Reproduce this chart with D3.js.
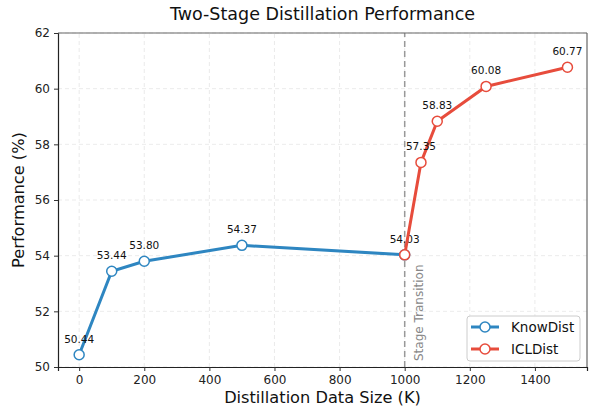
<!DOCTYPE html>
<html>
<head>
<meta charset="utf-8">
<script src="https://cdn.jsdelivr.net/npm/d3@7"></script>
<style>
  body { margin: 0; background: #fff; }
  svg { font-family: "DejaVu Sans", sans-serif; }
</style>
</head>
<body>
<svg id="chart" width="591" height="407"></svg>
<script>
// data
var knowX = [0, 100, 200, 500, 1000]
var knowY = [50.44, 53.44, 53.80, 54.37, 54.03]
var iclX = [1000, 1050, 1100, 1250, 1500]
var iclY = [54.03, 57.35, 58.83, 60.08, 60.77]
var xTicks = [0, 200, 400, 600, 800, 1000, 1200, 1400]
var yTicks = [50, 52, 54, 56, 58, 60, 62]
var seriesNames = ['KnowDist', 'ICLDist']
var colors = ['#2e86c1', '#e74c3c']

var margin = {left: 58, top: 33, right: 4, bottom: 40}
var width = 591, height = 407
var svg = d3.select('#chart')

var x = d3.scaleLinear().domain([-65, 1560]).range([margin.left, width - margin.right])
var y = d3.scaleLinear().domain([50, 62]).range([height - margin.bottom, margin.top])

// grid
var grid = svg.append('g')
grid.selectAll('.gx').data(xTicks).enter().append('line')
    .attr('x1', function (d) { return x(d) }).attr('x2', function (d) { return x(d) })
    .attr('y1', y(50)).attr('y2', y(62))
    .attr('stroke', '#e6e6e6').attr('stroke-width', 0.8).attr('stroke-dasharray', '4,3')
grid.selectAll('.gy').data(yTicks).enter().append('line')
    .attr('y1', function (d) { return y(d) }).attr('y2', function (d) { return y(d) })
    .attr('x1', x.range()[0]).attr('x2', x.range()[1])
    .attr('stroke', '#e6e6e6').attr('stroke-width', 0.8).attr('stroke-dasharray', '4,3')

// stage transition
svg.append('line')
    .attr('x1', x(1000)).attr('x2', x(1000)).attr('y1', y(50)).attr('y2', y(62))
    .attr('stroke', '#999').attr('stroke-width', 1.5).attr('stroke-dasharray', '6,4')
svg.append('text')
    .attr('transform', 'translate(' + (x(1000) + 18) + ',' + (y(50) - 6) + ') rotate(-90)')
    .attr('fill', '#888').attr('font-size', 12)
    .text('Stage Transition')

// axes
var xAxis = svg.append('g').attr('transform', 'translate(0,' + y(50) + ')')
    .call(d3.axisBottom(x).tickValues(xTicks).tickFormat(d3.format('d')).tickSize(4).tickPadding(4))
var yAxis = svg.append('g').attr('transform', 'translate(' + x.range()[0] + ',0)')
    .call(d3.axisLeft(y).tickValues(yTicks).tickFormat(d3.format('d')).tickSize(4).tickPadding(4))
svg.selectAll('.tick text').attr('font-size', 12).attr('fill', '#222').attr('font-family', 'DejaVu Sans')
svg.selectAll('.tick line').attr('stroke', '#333')
xAxis.select('.domain').attr('stroke', '#222').attr('stroke-width', 1.2)
yAxis.select('.domain').attr('stroke', '#222').attr('stroke-width', 1.2)
// top/right spines
svg.append('line').attr('x1', x.range()[0]).attr('x2', x.range()[1]).attr('y1', y(62)).attr('y2', y(62))
    .attr('stroke', '#666').attr('stroke-width', 1.2)
svg.append('line').attr('x1', x.range()[1]).attr('x2', x.range()[1]).attr('y1', y(62)).attr('y2', y(50))
    .attr('stroke', '#666').attr('stroke-width', 1.2)

// series
var series = [
    {name: seriesNames[0], xs: knowX, ys: knowY, color: colors[0]},
    {name: seriesNames[1], xs: iclX, ys: iclY, color: colors[1]}
]
var line = d3.line().x(function (d) { return x(d[0]) }).y(function (d) { return y(d[1]) })
series.forEach(function (s, si) {
    var pts = s.xs.map(function (v, i) { return [v, s.ys[i]] })
    svg.append('path').datum(pts).attr('d', line)
        .attr('fill', 'none').attr('stroke', s.color).attr('stroke-width', 3)
    svg.selectAll('.pt' + si).data(pts).enter().append('circle')
        .attr('cx', function (d) { return x(d[0]) }).attr('cy', function (d) { return y(d[1]) })
        .attr('r', 5).attr('fill', '#fff').attr('stroke', s.color).attr('stroke-width', 1.5)
    var labels = si == 0 ? pts : pts.slice(1)
    svg.selectAll('.lb' + si).data(labels).enter().append('text')
        .attr('x', function (d) { return x(d[0]) }).attr('y', function (d) { return y(d[1]) - 12 })
        .attr('text-anchor', 'middle').attr('font-size', 10.5).attr('fill', '#111')
        .text(function (d) { return d[1].toFixed(2) })
})

// titles
svg.append('text').attr('x', (x.range()[0] + x.range()[1]) / 2).attr('y', 20)
    .attr('text-anchor', 'middle').attr('font-size', 17.5).attr('fill', '#111')
    .text('Two-Stage Distillation Performance')
svg.append('text').attr('x', (x.range()[0] + x.range()[1]) / 2).attr('y', 403)
    .attr('text-anchor', 'middle').attr('font-size', 16.2).attr('fill', '#111')
    .text('Distillation Data Size (K)')
svg.append('text')
    .attr('transform', 'translate(24,' + ((y(50) + y(62)) / 2) + ') rotate(-90)')
    .attr('text-anchor', 'middle').attr('font-size', 16.2).attr('fill', '#111')
    .text('Performance (%)')

// legend
var lg = svg.append('g').attr('transform', 'translate(467,316)')
lg.append('rect').attr('width', 113).attr('height', 45).attr('rx', 3)
    .attr('fill', '#fff').attr('fill-opacity', 0.85).attr('stroke', '#ccc')
series.forEach(function (s, i) {
    var gy = 11 + i * 22
    lg.append('line').attr('x1', 4).attr('x2', 32).attr('y1', gy).attr('y2', gy)
        .attr('stroke', s.color).attr('stroke-width', 3)
    lg.append('circle').attr('cx', 18).attr('cy', gy).attr('r', 5)
        .attr('fill', '#fff').attr('stroke', s.color).attr('stroke-width', 1.5)
    lg.append('text').attr('x', 44).attr('y', gy + 5).attr('font-size', 13.5).attr('fill', '#111')
        .text(s.name)
})
</script>
</body>
</html>
